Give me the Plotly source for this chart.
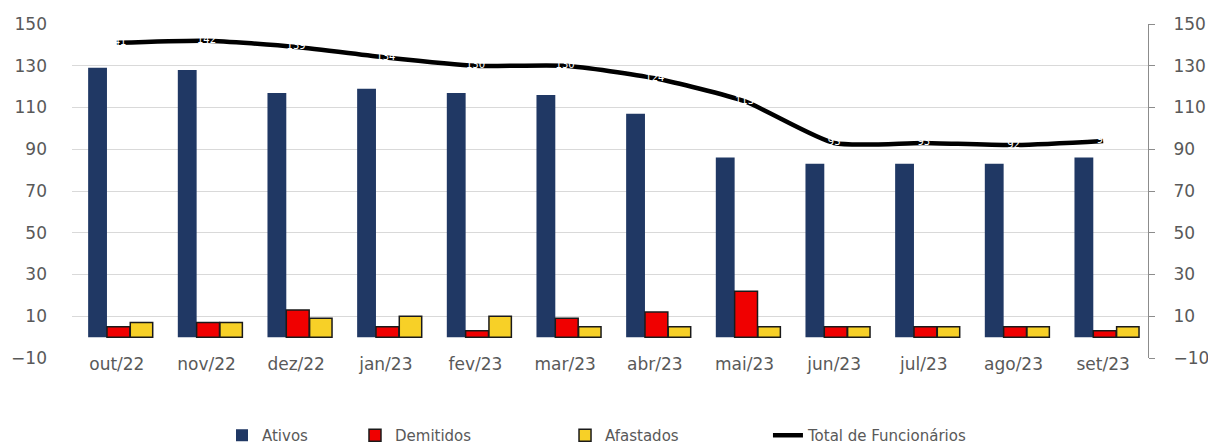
import plotly.graph_objects as go

categories = ["out/22", "nov/22", "dez/22", "jan/23", "fev/23", "mar/23",
              "abr/23", "mai/23", "jun/23", "jul/23", "ago/23", "set/23"]
ativos = [129, 128, 117, 119, 117, 116, 107, 86, 83, 83, 83, 86]
demitidos = [5, 7, 13, 5, 3, 9, 12, 22, 5, 5, 5, 3]
afastados = [7, 7, 9, 10, 10, 5, 5, 5, 5, 5, 5, 5]
total = [141, 142, 139, 134, 130, 130, 124, 113, 93, 93, 92, 94]
y_ticks = [-10, 10, 30, 50, 70, 90, 110, 130, 150]

tick_font = dict(family="DejaVu Sans", size=17, color="#595959")
legend_font = dict(family="DejaVu Sans", size=15, color="#595959")

fig = go.Figure()
fig.add_trace(go.Bar(
    x=categories, y=ativos, name="Ativos", legend="legend",
    marker=dict(color="#203864", line=dict(width=0)),
    width=0.21, offset=-0.32,
))
fig.add_trace(go.Bar(
    x=categories, y=demitidos, name="Demitidos", legend="legend2",
    marker=dict(color="#F00000", line=dict(color="#1a1a1a", width=1.5)),
    width=0.255, offset=-0.11,
))
fig.add_trace(go.Bar(
    x=categories, y=afastados, name="Afastados", legend="legend3",
    marker=dict(color="#F7D027", line=dict(color="#1a1a1a", width=1.5)),
    width=0.25, offset=0.15,
))
fig.add_trace(go.Scatter(
    x=categories, y=total, name="Total de Funcionários", yaxis="y2", legend="legend4",
    mode="lines+text", text=[str(v) for v in total], textposition="middle center",
    textfont=dict(color="#FFFFFF", size=10, family="DejaVu Sans"),
    line=dict(color="#000000", width=4.5, shape="spline", smoothing=0.6),
))

def leg(x):
    return dict(orientation="h", x=x, y=-0.232, xanchor="left", yanchor="middle",
                font=legend_font, bgcolor="rgba(0,0,0,0)")

fig.update_layout(
    width=1216, height=447,
    margin=dict(l=64, r=76, t=16, b=97, autoexpand=False),
    paper_bgcolor="white", plot_bgcolor="white",
    barmode="overlay",
    showlegend=True,
    legend=leg(0.1394),
    legend2=leg(0.263),
    legend3=leg(0.4582),
    legend4=leg(0.6468),
    xaxis=dict(tickfont=tick_font, showgrid=False, showline=False, ticks="",
               range=[-0.5, 11.5], ticklabelstandoff=-6),
    yaxis=dict(range=[-10, 150], tickvals=y_ticks, tickfont=tick_font,
               showgrid=True, gridcolor="#D9D9D9", gridwidth=1,
               zeroline=False, showline=False, ticks="", ticklabelstandoff=24),
    yaxis2=dict(range=[-10, 150], tickvals=y_ticks, tickfont=tick_font,
                overlaying="y", side="right", showgrid=False, zeroline=False,
                showline=True, linecolor="#8C8C8C", linewidth=1,
                ticks="outside", ticklen=6, tickcolor="#8C8C8C",
                ticklabelstandoff=15),
)

fig.write_html("out.html")
